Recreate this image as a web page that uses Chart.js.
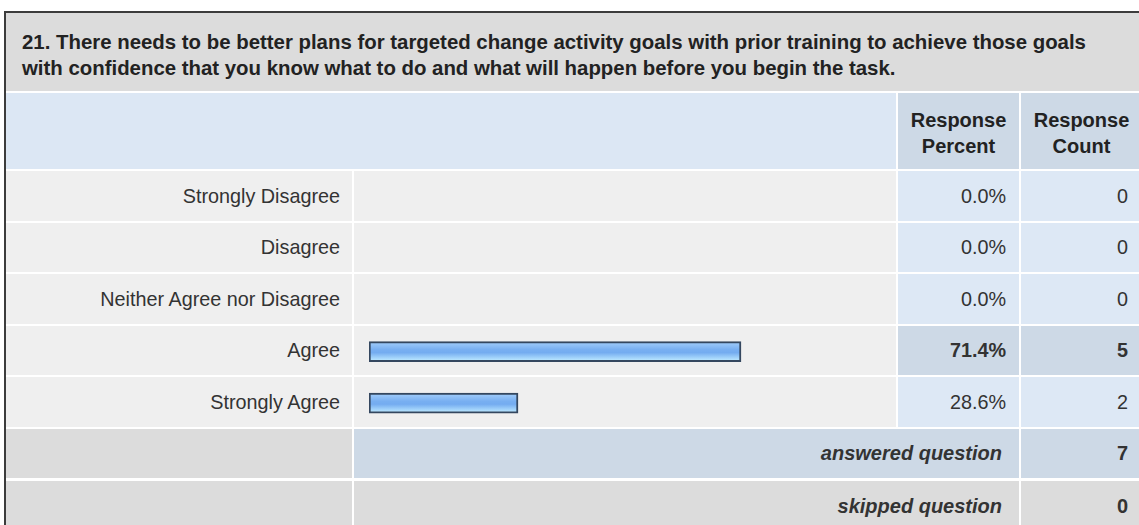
<!DOCTYPE html>
<html lang="en">
<head>
    <meta charset="UTF-8">
    <title>Survey question 21</title>
    <style>
        body {
            margin: 0;
            background: #ffffff;
            width: 1139px;
            height: 525px;
            overflow: hidden;
            position: relative;
            font-family: "Liberation Sans", Arial, sans-serif;
            color: #333;
        }
        .cell {
            position: absolute;
            box-sizing: border-box;
            display: flex;
            align-items: center;
            white-space: nowrap;
        }
        .right { justify-content: flex-end; }
        .center { justify-content: center; text-align: center; }
        #frame {
            position: absolute;
            left: 4px;
            top: 11px;
            width: 1200px;
            height: 600px;
            border-left: 2px solid #3c3c3c;
            border-top: 2px solid #3c3c3c;
            background: #ffffff;
        }
        #title {
            position: absolute;
            left: 6px;
            top: 13px;
            width: 1200px;
            height: 78px;
            background: #dcdcdc;
            box-sizing: border-box;
            padding: 17px 0 0 16px;
            font-weight: bold;
            font-size: 20.4px;
            line-height: 25.5px;
            color: #222;
            white-space: nowrap;
        }
        #barCanvas {
            position: absolute;
            left: 354px;
            top: 171px;
        }
    </style>
    <script src="https://cdn.jsdelivr.net/npm/chart.js"></script>
</head>
<body>
    <div id="frame"></div>
    <div id="title"></div>
    <div id="table"></div>
    <canvas id="barCanvas" width="542" height="258"></canvas>

    <script>
        var questionLines = [
            '21. There needs to be better plans for targeted change activity goals with prior training to achieve those goals',
            'with confidence that you know what to do and what will happen before you begin the task.'
        ];
        var headerLabels = ['Response<br>Percent', 'Response<br>Count'];
        var categories = ['Strongly Disagree', 'Disagree', 'Neither Agree nor Disagree', 'Agree', 'Strongly Agree'];
        var responsePercent = [0.0, 0.0, 0.0, 71.4, 28.6];
        var responseCount = [0, 0, 0, 5, 2];
        var answeredQuestion = 7;
        var skippedQuestion = 0;

        document.getElementById('title').innerHTML = questionLines.join('<br>');

        // column edges (px)
        var colLabel = [6, 352];
        var colBar = [354, 896];
        var colPct = [898, 1019];
        var colCnt = [1021, 1142];

        var table = document.getElementById('table');
        function cell(x0, x1, y, h, bg, html, cls, style) {
            var d = document.createElement('div');
            d.className = 'cell ' + (cls || '');
            d.style.left = x0 + 'px';
            d.style.width = (x1 - x0) + 'px';
            d.style.top = y + 'px';
            d.style.height = h + 'px';
            d.style.background = bg;
            d.innerHTML = html || '';
            if (style) d.style.cssText += style;
            table.appendChild(d);
            return d;
        }

        var lightBlue = '#dde8f5';
        var midBlue = '#cdd9e6';
        var lightGray = '#efefef';
        var gray = '#dcdcdc';
        var txt = 'font-size:19.8px;';

        // header row
        var headStyle = 'font-weight:bold;font-size:20px;line-height:26px;color:#222;padding-top:4px;';
        cell(colLabel[0], colBar[1], 93, 76, '#dce7f4');
        cell(colPct[0], colPct[1], 93, 76, midBlue, headerLabels[0], 'center', headStyle);
        cell(colCnt[0], colCnt[1], 93, 76, midBlue, headerLabels[1], 'center', headStyle);

        // data rows
        var rowTops = [171, 223, 274, 326, 377];
        var rowHeights = [50, 49, 50, 49, 50];
        var maxIdx = responsePercent.indexOf(Math.max.apply(null, responsePercent));
        for (var i = 0; i < categories.length; i++) {
            var rowY = rowTops[i], rowH = rowHeights[i];
            var hi = (i === maxIdx);
            var numBg = hi ? midBlue : lightBlue;
            var numStyle = txt + (hi ? 'font-weight:bold;' : '');
            cell(colLabel[0], colLabel[1], rowY, rowH, lightGray, categories[i], 'right', txt + 'padding-right:12px;');
            cell(colBar[0], colBar[1], rowY, rowH, lightGray);
            cell(colPct[0], colPct[1], rowY, rowH, numBg, responsePercent[i].toFixed(1) + '%', 'right', numStyle + 'padding-right:13px;');
            cell(colCnt[0], colCnt[1], rowY, rowH, numBg, String(responseCount[i]), 'right', numStyle + 'padding-right:14px;');
        }

        // summary rows
        var sumStyle = 'font-size:20px;font-weight:bold;';
        cell(colLabel[0], colLabel[1], 429, 49, gray);
        cell(colBar[0], colPct[1], 429, 49, midBlue, 'answered question', 'right', sumStyle + 'font-style:italic;padding-right:17px;');
        cell(colCnt[0], colCnt[1], 429, 49, midBlue, String(answeredQuestion), 'right', sumStyle + 'padding-right:14px;');
        cell(colLabel[0], colLabel[1], 481, 50, gray);
        cell(colBar[0], colPct[1], 481, 50, gray, 'skipped question', 'right', sumStyle + 'font-style:italic;padding-right:17px;');
        cell(colCnt[0], colCnt[1], 481, 50, gray, String(skippedQuestion), 'right', sumStyle + 'padding-right:14px;');

        // bars
        var barCanvas = document.getElementById('barCanvas');
        var ctx = barCanvas.getContext('2d');

        function barFill(c) {
            var ch = c.chart;
            var y = (ch.scales && ch.scales.y) ? ch.scales.y.getPixelForValue(c.dataIndex) : NaN;
            if (!isFinite(y)) return '#7fb4f2';
            var g = ch.ctx.createLinearGradient(0, y - 10, 0, y + 10);
            g.addColorStop(0, '#a4cffb');
            g.addColorStop(0.4, '#78aff1');
            g.addColorStop(0.55, '#74acf0');
            g.addColorStop(0.85, '#a9d9fc');
            g.addColorStop(1, '#c8f0ff');
            return g;
        }

        var barChart = new Chart(ctx, {
            type: 'bar',
            data: {
                labels: categories,
                datasets: [
                    {
                        data: responsePercent,
                        backgroundColor: barFill,
                        borderColor: '#34475f',
                        borderWidth: 2,
                        borderSkipped: false,
                        barThickness: 20
                    }
                ]
            },
            options: {
                indexAxis: 'y',
                responsive: false,
                animation: false,
                layout: {
                    padding: { left: 15, right: 6, top: 0, bottom: 0 }
                },
                scales: {
                    x: { display: false, min: 0, max: 100 },
                    y: { display: false }
                },
                plugins: {
                    legend: { display: false },
                    tooltip: { enabled: false }
                }
            }
        });
    </script>
</body>
</html>
